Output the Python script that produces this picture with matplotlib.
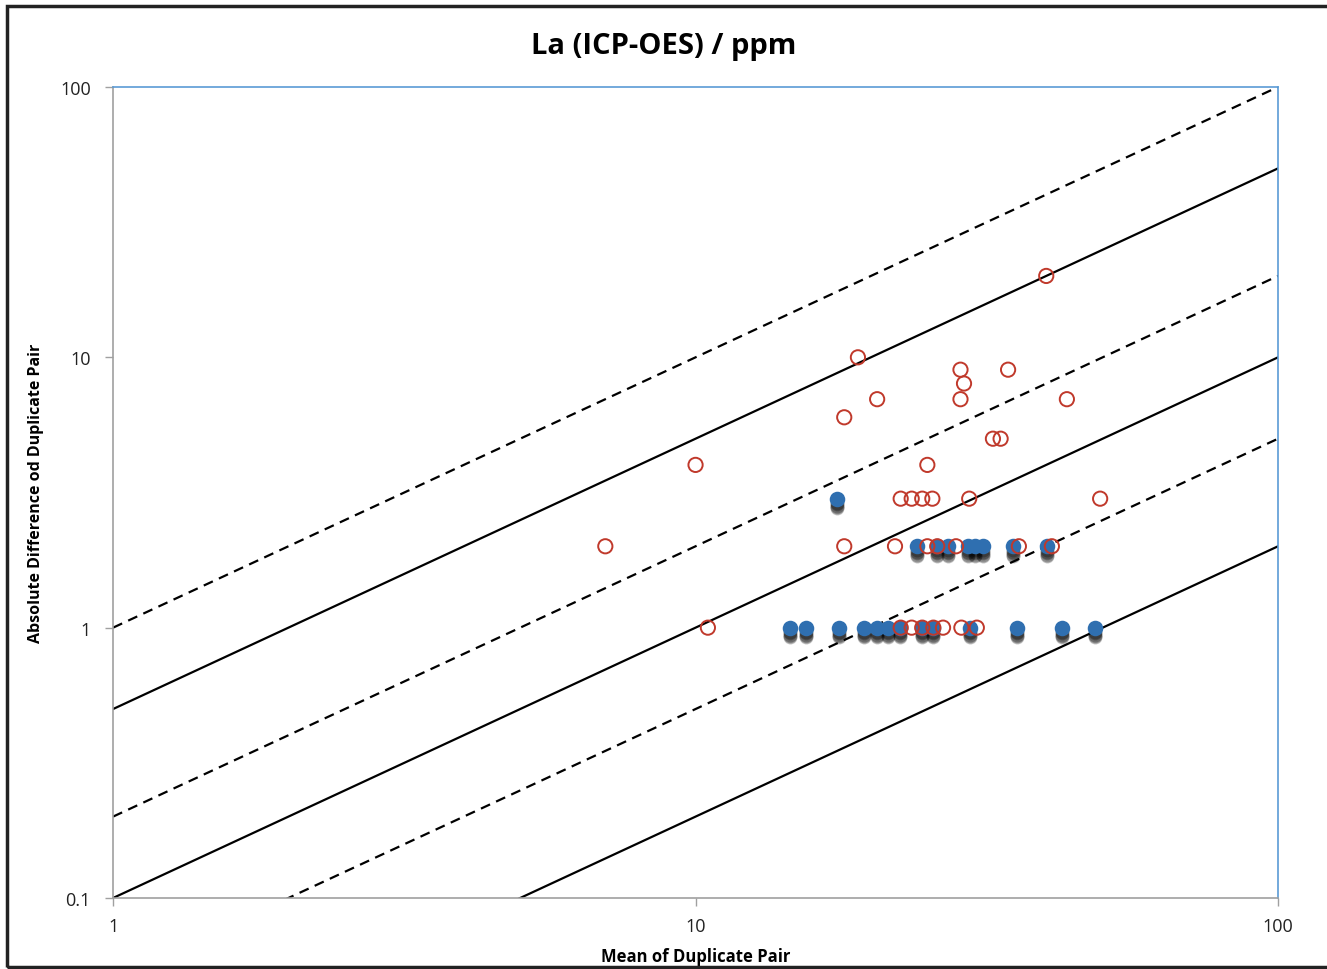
import numpy as np
import matplotlib.pyplot as plt
import matplotlib.transforms as mtransforms
from matplotlib.patches import Rectangle

plt.rcParams['font.family'] = ['Open Sans', 'DejaVu Sans']

# open red circles (mean of pair, abs difference)
red_x = [7.0, 10.0, 10.5, 18.0, 18.0, 19.0, 20.5, 22.0, 22.5, 23.5, 24.5, 25.5,
         25.0, 25.0, 26.0, 28.0, 28.5, 28.9, 28.5, 29.5, 32.4, 33.4, 34.4, 35.9,
         40.0, 40.9, 43.4, 49.5,
         22.5, 23.5, 24.5, 25.6, 26.6, 28.6, 30.4]
red_y = [2, 4, 1, 6, 2, 10, 7, 2, 3, 3, 3, 3,
         4, 2, 2, 2, 9, 8, 7, 3, 5, 5, 9, 2,
         20, 2, 7, 3,
         1, 1, 1, 1, 1, 1, 1]

# filled blue points
blue_x = [17.5,
          24.0, 26.0, 27.1, 29.4, 30.2, 31.2, 35.1, 40.1,
          14.5, 15.5, 17.6, 19.5, 20.5, 21.4, 22.4, 24.5, 25.6, 29.6, 35.6, 42.6, 48.5]
blue_y = [3,
          2, 2, 2, 2, 2, 2, 2, 2,
          1, 1, 1, 1, 1, 1, 1, 1, 1, 1, 1, 1, 1]

# reference lines: difference = ratio * mean
line_ratio = [1.0, 0.5, 0.2, 0.1, 0.05, 0.02]
line_style = ['dashed', 'solid', 'dashed', 'solid', 'dashed', 'solid']

fig = plt.figure(figsize=(13.27, 9.70), dpi=100)
ax = fig.add_axes([0.0852, 0.0732, 0.8779, 0.8361])

xs = np.array([1.0, 100.0])
for r, ls in zip(line_ratio, line_style):
    if ls == 'dashed':
        ax.plot(xs, r * xs, color='black', lw=1.6, linestyle=(0, (4.5, 3)), zorder=2)
    else:
        ax.plot(xs, r * xs, color='black', lw=1.6, zorder=2)

# soft shadow under the blue markers
for off in [3, 4, 5, 6, 7]:
    tr = mtransforms.offset_copy(ax.transData, fig=fig, x=0, y=-off, units='points')
    ax.scatter(blue_x, blue_y, s=100, color='black', alpha=0.25, linewidths=0,
               transform=tr, zorder=3)

ax.scatter(blue_x, blue_y, s=125, color='#2f6fb0', linewidths=0, zorder=4)
ax.scatter(red_x, red_y, s=105, facecolors='none', edgecolors='#c0392b',
           linewidths=1.4, zorder=5)

ax.set_xscale('log')
ax.set_yscale('log')
ax.set_xlim(1, 100)
ax.set_ylim(0.1, 100)
ax.set_xticks([1, 10, 100])
ax.set_xticklabels(['1', '10', '100'])
ax.set_yticks([0.1, 1, 10, 100])
ax.set_yticklabels(['0.1', '1', '10', '100'])
ax.minorticks_off()
ax.tick_params(axis='both', colors='#a0a0a0', length=6, width=1, labelsize=13,
               labelcolor='#222222')
ax.tick_params(axis='y', pad=10)
ax.tick_params(axis='x', pad=8)

for s in ['left', 'bottom']:
    ax.spines[s].set_color('#a0a0a0')
    ax.spines[s].set_linewidth(1.2)
for s in ['top', 'right']:
    ax.spines[s].set_color('#5b9bd5')
    ax.spines[s].set_linewidth(1.2)

ax.set_xlabel('Mean of Duplicate Pair', fontsize=12, fontweight='bold', labelpad=8)
ax.set_ylabel('Absolute Difference od Duplicate Pair', fontsize=11.5, fontweight='bold')
ax.yaxis.set_label_coords(-0.0592, 0.5)
fig.text(0.5, 0.952, 'La (ICP-OES) / ppm', ha='center', va='center',
         fontsize=21, fontweight='bold')

fig.patches.append(Rectangle((0.0055, 0.002), 1.0, 0.9905, transform=fig.transFigure,
                             fill=False, edgecolor='#222222', linewidth=2.5))

fig.savefig('out.png', dpi=100)
